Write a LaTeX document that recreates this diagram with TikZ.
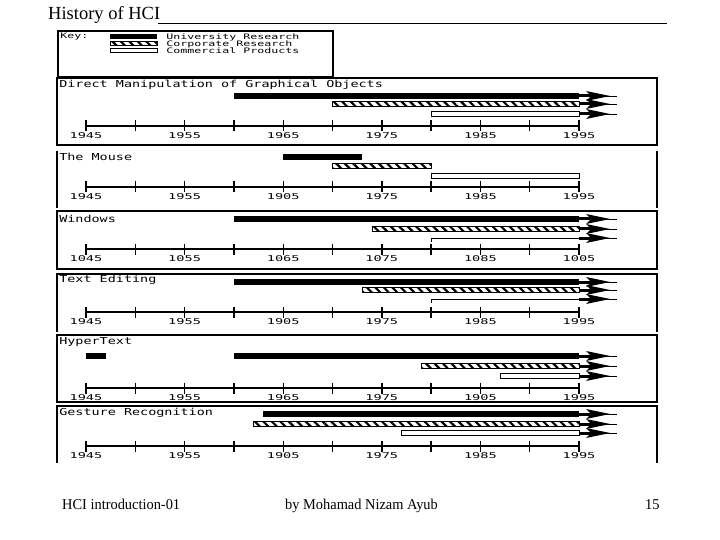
\documentclass[tikz,border=0pt]{standalone}
\usepackage{fontspec}
\setmainfont{Liberation Serif}
\newfontfamily\pixfont{DejaVu Sans Mono}
\usetikzlibrary{patterns.meta}
\def\yx#1{86+9.86*(#1-1945)}
\def\ubar(#1:#2:#3){\fill ({\yx{#1}},#3-3.2) rectangle ({\yx{#2}},#3+3.2);}
\def\cbar(#1:#2:#3){\draw[hatchbar] ({\yx{#1}},#3-2.5) rectangle ({\yx{#2}},#3+2.5);}
\def\pbar(#1:#2:#3){\draw[prodbar] ({\yx{#1}},#3-2.5) rectangle ({\yx{#2}},#3+2.5);}
\def\pline(#1:#2:#3){\draw[line width=1pt] ({\yx{#1}},#3+4) -- ({\yx{#1}},#3) -- ({\yx{#2}},#3);}
\def\goon(#1){\draw[line width=3pt] (579,#1) -- (591,#1);
	\draw[line width=0.8pt] (591,#1) -- (617,#1);
	\fill (586,#1-5) -- (610,#1) -- (586,#1+5) -- (591,#1) -- cycle;}
\def\timeline(#1)(#2){\draw[line width=1.2pt] ({\yx{1945}},#1) -- ({\yx{1995}},#1);
	\foreach \t in {1945,1950,...,1995}
		\draw[line width=1.4pt] ({\yx{\t}},#1-5.5) -- ({\yx{\t}},#1+5.5);
	\foreach \lab [count=\i from 0] in {#2}
		\node[yearlabel] (yr#1-\i) at ({\yx{1945}+98.6*\i},#1+10) {\lab};}
\tikzset{
	panelline/.style={line width=1.3pt},
	panellabel/.style={anchor=west, inner sep=0pt, font=\pixfont\fontsize{9.6}{10}\selectfont, xscale=1.4},
	yearlabel/.style={inner sep=0pt, font=\pixfont\fontsize{8}{9}\selectfont, xscale=1.7},
	keylabel/.style={anchor=west, inner sep=0pt, font=\pixfont\fontsize{7.5}{8}\selectfont, xscale=1.55},
	hatchbar/.style={line width=0.8pt, pattern={Lines[angle=-45,distance=6pt,line width=2.2pt]}},
	prodbar/.style={line width=0.8pt, fill=white},
	footer/.style={anchor=base west, inner sep=0pt, font=\fontsize{15}{16}\selectfont, xscale=0.96}
}

\begin{document}
\begin{tikzpicture}[x=1pt, y=-1pt]
	\useasboundingbox (0,0) rectangle (720,540);
	%%%%% TITLE %%%%%
	\node[anchor=base west, inner sep=0pt, font=\fontsize{18.5}{20}\selectfont] (title) at (48,20) {History of HCI};
	\draw[line width=0.9pt] (158,23) -- (667,23);
	
	%%%%% KEY %%%%%
	\draw[panelline] (58,31) rectangle (333,77);
	\node[keylabel] (key) at (60,37) {Key:};
	\fill (110,34.5) rectangle (157,39.5);
	\draw[hatchbar] (110,41.5) rectangle (157,45.5);
	\draw[prodbar] (110,48) rectangle (157,52);
	\node[keylabel] (keyuni) at (166,37) {University Research};
	\node[keylabel] (keycorp) at (166,44) {Corporate Research};
	\node[keylabel] (keyprod) at (166,51) {Commercial Products};
	
	%%%%% DIRECT MANIPULATION %%%%%
	\draw[panelline] (57,78) rectangle (657,145);
	\node[panellabel] (dm) at (59,85) {Direct Manipulation of Graphical Objects};
	\ubar(1960:1995:96) \goon(96)
	\cbar(1970:1995:104) \goon(104)
	\pbar(1980:1995:114) \goon(114)
	\timeline(126)(1945,1955,1965,1975,1985,1995)
	
	%%%%% MOUSE %%%%%
	\draw[panelline] (57,151) -- (57,208);
	\draw[panelline] (657,151) -- (657,208);
	\node[panellabel] (mouse) at (59,157) {The Mouse};
	\ubar(1965:1973:157)
	\cbar(1970:1980:166)
	\pbar(1980:1995:176)
	\timeline(187)(1945,1955,1905,1975,1985,1995)
	
	%%%%% WINDOWS %%%%%
	\draw[panelline] (57,211) rectangle (657,269);
	\node[panellabel] (win) at (59,219) {Windows};
	\ubar(1960:1995:219) \goon(219)
	\cbar(1974:1995:229) \goon(229)
	\pline(1980:1995:238) \goon(238)
	\timeline(249)(1045,1055,1065,1075,1085,1005)
	
	%%%%% TEXT EDITING %%%%%
	\draw[panelline] (57,332) -- (57,274) -- (657,274) -- (657,332);
	\node[panellabel] (text) at (59,280) {Text Editing};
	\ubar(1960:1995:282) \goon(282)
	\cbar(1973:1995:290) \goon(290)
	\pline(1980:1995:299) \goon(299)
	\timeline(312)(1945,1955,1905,1975,1985,1995)
	
	%%%%% HYPERTEXT %%%%%
	\draw[panelline] (57,335) rectangle (657,402);
	\node[panellabel] (hyper) at (59,342) {HyperText};
	\ubar(1945:1947:356)
	\ubar(1960:1995:356) \goon(356)
	\cbar(1979:1995:366) \goon(366)
	\pbar(1987:1995:376) \goon(376)
	\timeline(388)(1945,1955,1965,1975,1905,1995)
	
	%%%%% GESTURE %%%%%
	\begin{scope}
		\clip (0,400) rectangle (720,462);
		\draw[panelline] (57,464) -- (57,406) -- (657,406) -- (657,464);
		\node[panellabel] (gest) at (59,413) {Gesture Recognition};
		\ubar(1963:1995:414) \goon(414)
		\cbar(1962:1995:424) \goon(424)
		\pbar(1977:1995:433) \goon(433)
		\timeline(446)(1945,1955,1905,1975,1985,1995)
	\end{scope}
	
	%%%%% FOOTER %%%%%
	\node[footer] (course) at (62,509) {HCI introduction-01};
	\node[footer] (author) at (285,509) {by Mohamad Nizam Ayub};
	\node[footer] (page) at (645,509) {15};
\end{tikzpicture}
\end{document}
